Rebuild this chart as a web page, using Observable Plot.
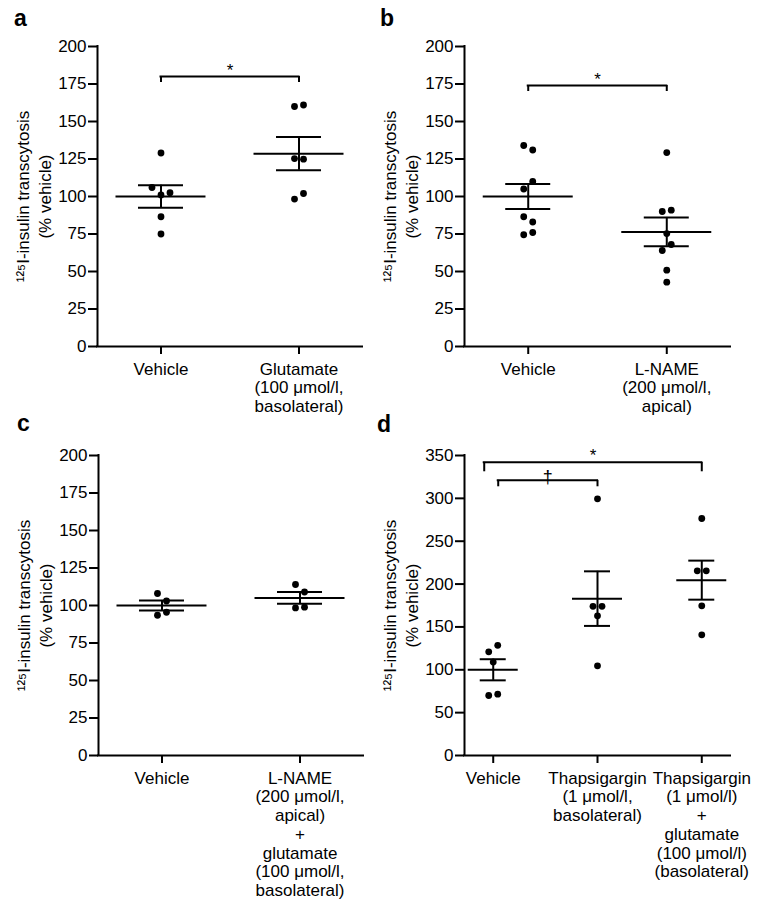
<!DOCTYPE html>
<html><head><meta charset="utf-8">
<script src="https://cdn.jsdelivr.net/npm/d3@7"></script>
<script src="https://cdn.jsdelivr.net/npm/@observablehq/plot@0.6"></script>
<style>
body{margin:0;background:#fff;}
#wrap{position:relative;width:757px;height:906px;font-family:"Liberation Sans",Arial,Helvetica,sans-serif;overflow:hidden;}
.panel{position:absolute;}
.tag{position:absolute;font-weight:bold;font-size:23px;line-height:23px;color:#000;}
</style></head><body><div id="wrap"></div>
<script>
// ---------- data ----------
const yLabel = "¹²⁵I-insulin transcytosis\n(% vehicle)";

const catsA = ["Vehicle", "Glutamate\n(100 μmol/l,\nbasolateral)"];
const vehicleA = [129, 106, 101, 102.5, 86.5, 75];
const glutamateA = [160, 161, 125.3, 124.9, 98.3, 102];

const catsB = ["Vehicle", "L-NAME\n(200 μmol/l,\napical)"];
const vehicleB = [134, 131, 105, 110, 86.5, 83, 74.5, 76];
const lnameB = [129.3, 90, 90.9, 75.3, 64, 68, 50.9, 42.9];

const catsC = ["Vehicle", "L-NAME\n(200 μmol/l,\napical)\n+\nglutamate\n(100 μmol/l,\nbasolateral)"];
const vehicleC = [108, 103, 93.5, 95.5];
const lnameGluC = [114, 109, 98.4, 98.9];

const catsD = ["Vehicle", "Thapsigargin\n(1 μmol/l,\nbasolateral)", "Thapsigargin\n(1 μmol/l)\n+\nglutamate\n(100 μmol/l)\n(basolateral)"];
const vehicleD = [120.9, 128.5, 109, 70, 71.6];
const thapsD = [299.5, 174, 174, 163, 104.6];
const thapsGluD = [276.5, 215.5, 215.5, 174.6, 140.8];

// significance brackets: compared groups, bracket level and drop (data units), label
const bracketsA = [{from: 0, to: 1, level: 180, drop: 4, label: "*"}];
const bracketsB = [{from: 0, to: 1, level: 174, drop: 4, label: "*"}];
const bracketsC = [];
const bracketsD = [
  {from: 0, to: 2, level: 342, drop: 11, label: "*", inset: -9},
  {from: 0, to: 1, level: 321, drop: 7.5, label: "†", inset: 5}
];

// ---------- drawing ----------
function panel(o) {
  const {cats, groups, yMax, yStep, pad, brackets, width, height, mT, mB, mL, mR, hwMean, hwSem} = o;
  const n = cats.length;
  const xDom = [-pad, n - 1 + pad];
  const pxu = (width - mL - mR) / (xDom[1] - xDom[0]);
  const ypx = (height - mT - mB) / yMax;

  // Prism-like scatter: points close in y share a row and are spread sideways
  const pts = [];
  groups.forEach((vals, gi) => {
    const order = vals.map((v, i) => i).sort((a, b) => vals[b] - vals[a]);
    const rows = [];
    let cur = null;
    for (const i of order) {
      if (cur && (vals[cur[0]] - vals[i]) * ypx < 8) cur.push(i);
      else { cur = [i]; rows.push(cur); }
    }
    for (const row of rows) {
      row.sort((a, b) => a - b);
      row.forEach((i, k) => pts.push({g: gi, v: vals[i], off: (k - (row.length - 1) / 2) * 9}));
    }
  });
  const stats = groups.map((vals, gi) => {
    const m = d3.mean(vals), s = d3.deviation(vals) / Math.sqrt(vals.length);
    return {g: gi, m, lo: m - s, hi: m + s};
  });
  const caps = stats.flatMap(s => [{g: s.g, y: s.lo}, {g: s.g, y: s.hi}]);
  const bx1 = b => b.from + (b.inset || 0) / pxu;
  const bx2 = b => b.to;
  const ends = brackets.flatMap(b => [{x: bx1(b), y1: b.level, y2: b.level - b.drop}, {x: bx2(b), y1: b.level, y2: b.level - b.drop}]);
  const stars = brackets.filter(b => b.label === "*");
  const daggers = brackets.filter(b => b.label !== "*");

  return Plot.plot({
    width, height, marginTop: mT, marginBottom: mB, marginLeft: mL, marginRight: mR,
    style: {background: "transparent", overflow: "visible", fontSize: "17px", fontFamily: "'Liberation Sans', Arial, Helvetica, sans-serif", color: "#000"},
    x: {type: "linear", domain: xDom, axis: null},
    y: {domain: [0, yMax], axis: null},
    marks: [
      Plot.axisY({ticks: d3.range(0, yMax + 1, yStep), tickSize: 9, tickPadding: 2, strokeWidth: 2, label: null, fill: "#000", stroke: "#000", fontSize: 17}),
      Plot.axisX({ticks: d3.range(n), tickFormat: i => cats[i], tickSize: 8, tickPadding: 7, lineHeight: 1.1, strokeWidth: 2, label: null, fill: "#000", stroke: "#000", fontSize: 17}),
      Plot.ruleX([xDom[0]], {y1: 0, y2: yMax, strokeWidth: 2, stroke: "#000", strokeLinecap: "square"}),
      Plot.ruleY([0], {strokeWidth: 2, stroke: "#000", strokeLinecap: "square"}),
      Plot.text([yLabel], {frameAnchor: "left", textAnchor: "middle", lineAnchor: "middle", dx: -65, rotate: -90, lineHeight: 1.3, fill: "#000", fontSize: 17}),
      Plot.ruleY(stats, {y: "m", x1: d => d.g - hwMean / pxu, x2: d => d.g + hwMean / pxu, strokeWidth: 2, stroke: "#000"}),
      Plot.ruleY(caps, {y: "y", x1: d => d.g - hwSem / pxu, x2: d => d.g + hwSem / pxu, strokeWidth: 2, stroke: "#000"}),
      Plot.ruleX(stats, {x: "g", y1: "lo", y2: "hi", strokeWidth: 2, stroke: "#000"}),
      Plot.dot(pts, {x: d => d.g + d.off / pxu, y: "v", r: 3.4, fill: "#000", stroke: "none"}),
      Plot.ruleY(brackets, {y: "level", x1: bx1, x2: bx2, strokeWidth: 2, stroke: "#000", strokeLinecap: "square"}),
      Plot.ruleX(ends, {x: "x", y1: "y1", y2: "y2", strokeWidth: 2, stroke: "#000"}),
      Plot.text(stars, {x: b => (bx1(b) + bx2(b)) / 2, y: "level", text: "label", lineAnchor: "bottom", dy: -1, fontSize: 17, fill: "#000"}),
      Plot.text(daggers, {x: b => (bx1(b) + bx2(b)) / 2, y: "level", text: "label", lineAnchor: "bottom", dy: 3, fontSize: 18, fill: "#000"})
    ]
  });
}

const wrap = document.getElementById("wrap");
function place(node, left, top) {
  node.classList.add("panel");
  node.style.left = left + "px";
  node.style.top = top + "px";
  wrap.appendChild(node);
}
function tag(t, left, top) {
  const d = document.createElement("div");
  d.className = "tag"; d.textContent = t;
  d.style.left = left + "px"; d.style.top = top + "px";
  wrap.appendChild(d);
}

place(panel({cats: catsA, groups: [vehicleA, glutamateA], yMax: 200, yStep: 25, pad: 0.46, brackets: bracketsA,
  width: 378, height: 420, mT: 46, mB: 74, mL: 97, mR: 16, hwMean: 45, hwSem: 22.5}), 0, 0);
place(panel({cats: catsB, groups: [vehicleB, lnameB], yMax: 200, yStep: 25, pad: 0.46, brackets: bracketsB,
  width: 379, height: 420, mT: 46, mB: 74, mL: 86, mR: 27, hwMean: 45, hwSem: 22.5}), 378, 0);
place(panel({cats: catsC, groups: [vehicleC, lnameGluC], yMax: 200, yStep: 25, pad: 0.46, brackets: bracketsC,
  width: 378, height: 496, mT: 45, mB: 151, mL: 98, mR: 15, hwMean: 45, hwSem: 22.5}), 0, 410);
place(panel({cats: catsD, groups: [vehicleD, thapsD, thapsGluD], yMax: 350, yStep: 50, pad: 0.2755, brackets: bracketsD,
  width: 379, height: 496, mT: 45, mB: 151, mL: 86, mR: 27, hwMean: 25, hwSem: 13}), 378, 410);

tag("a", 14, 7);
tag("b", 380, 7);
tag("c", 17, 412);
tag("d", 377, 413);
</script>
</body></html>
